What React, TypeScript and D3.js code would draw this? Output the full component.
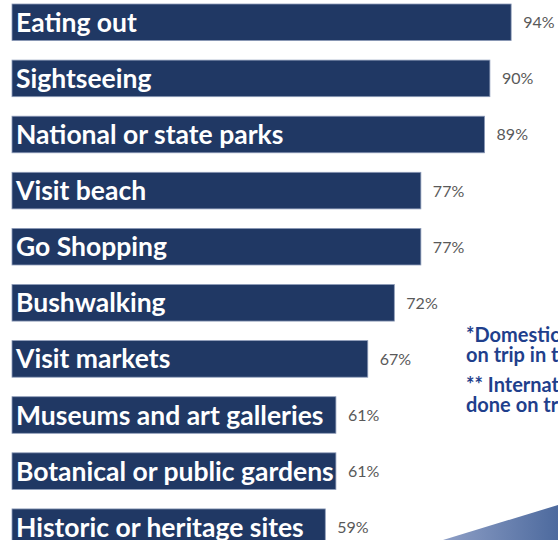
import React from "react";
import * as d3 from "d3";

const categories = [
  "Eating out",
  "Sightseeing",
  "National or state parks",
  "Visit beach",
  "Go Shopping",
  "Bushwalking",
  "Visit markets",
  "Museums and art galleries",
  "Botanical or public gardens",
  "Historic or heritage sites",
];
const values = [94, 90, 89, 77, 77, 72, 67, 61, 61, 59];
const notes = [
  ["*Domestic visitors \u2013 activities done", "on trip in the last 12 months"],
  ["** International visitors \u2013 activities", "done on trip in Australia"],
];

const W = 558;
const H = 540;

export default function App() {
  const x = d3.scaleLinear().domain([0, 100]).range([12, 543]);
  const y = d3
    .scaleBand<string>()
    .domain(categories)
    .range([4, 545.5])
    .paddingInner(0.348)
    .paddingOuter(0);
  const bh = y.bandwidth();
  return (
    <svg
      width={W}
      height={H}
      style={{ position: "fixed", left: 0, top: 0, background: "#fff" }}
      fontFamily="Lato, 'Open Sans', sans-serif"
    >
      <defs>
        <linearGradient id="tri" x1="0" x2="1" y1="0" y2="0">
          <stop offset="0" stopColor="#8e9fc6" />
          <stop offset="1" stopColor="#4d6a9e" />
        </linearGradient>
      </defs>
      <polygon points="443,540 558,505 558,540" fill="url(#tri)" />
      {categories.map((c, i) => {
        const y0 = y(c)!;
        const x1 = x(values[i]);
        return (
          <g key={c}>
            <rect
              x={x(0)}
              y={y0}
              width={x1 - x(0)}
              height={bh}
              fill="#203864"
              stroke="#8d9bb8"
              strokeWidth={0.8}
            />
            <text
              x={x(0) + 4}
              y={y0 + bh / 2 + 9.5}
              fill="#fff"
              fontWeight={700}
              fontSize={26.5}
            >
              {c}
            </text>
            <text
              x={x1 + 12}
              y={y0 + bh / 2 + 6}
              fill="#595959"
              fontSize={16}
            >
              {values[i]}%
            </text>
          </g>
        );
      })}
      {notes.map((lines, k) =>
        lines.map((l, j) => (
          <text
            key={k + "-" + j}
            x={466}
            y={342 + k * 50 + j * 20}
            fill="#1f3f8c"
            fontWeight={700}
            fontSize={20}
          >
            {l}
          </text>
        ))
      )}
    </svg>
  );
}
